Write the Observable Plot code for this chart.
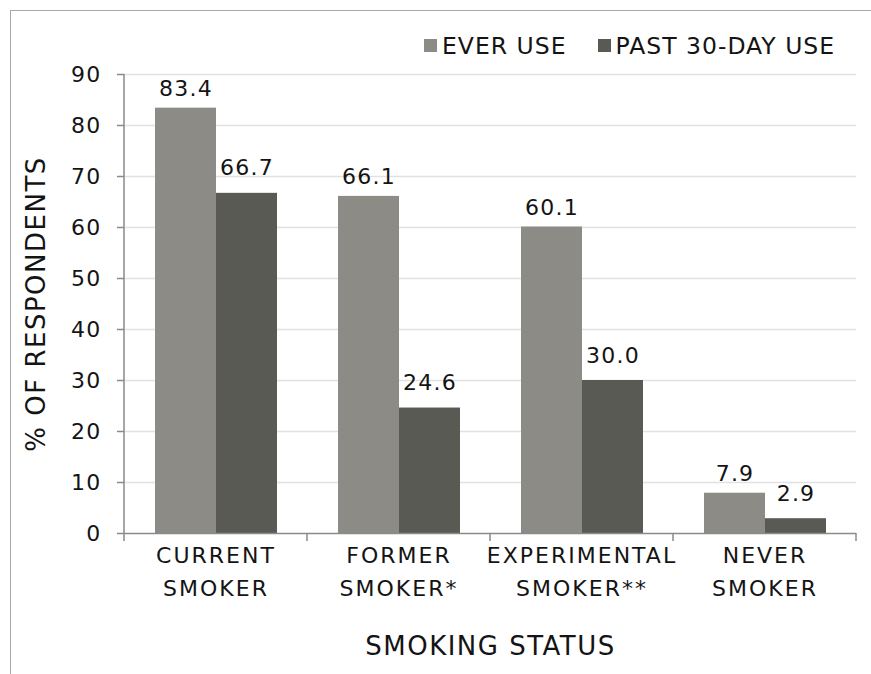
<!DOCTYPE html>
<html>
<head>
<meta charset="utf-8">
<script src="https://cdn.jsdelivr.net/npm/d3@7"></script>
<script src="https://cdn.jsdelivr.net/npm/@observablehq/plot@0.6"></script>
<style>
  html, body { margin: 0; padding: 0; background: #fff; }
  #wrap { position: relative; width: 871px; height: 674px; overflow: hidden; background: #fff; }
  #border { position: absolute; left: 10px; top: 10px; width: 1000px; height: 1000px;
            border-left: 1px solid #a8a8a8; border-top: 1px solid #a8a8a8; pointer-events: none; }
  #chart { position: absolute; left: 0; top: 0; }
  #legend { position: absolute; left: 424px; top: 29px; }
  .lg-swatches { font-family: "DejaVu Sans", sans-serif; font-size: 23.5px; letter-spacing: 1px; color: #141414; }
  .lg-swatch { margin-right: 31px !important; }
  .lg-swatch > svg { margin-right: 5px !important; }
</style>
</head>
<body>
<div id="wrap"><div id="chart"></div><div id="legend"></div><div id="border"></div></div>
<script>
const categories = ["CURRENT\nSMOKER", "FORMER\nSMOKER*", "EXPERIMENTAL\nSMOKER**", "NEVER\nSMOKER"];
const seriesNames = ["EVER USE", "PAST 30-DAY USE"];
const everUse = [83.4, 66.1, 60.1, 7.9];
const past30Day = [66.7, 24.6, 30.0, 2.9];
const yTicks = [0, 10, 20, 30, 40, 50, 60, 70, 80, 90];
const seriesColors = ["#8c8b86", "#5a5a54"];
const xTitle = "SMOKING STATUS";
const yTitle = "% OF RESPONDENTS";

const data = categories.flatMap((c, i) => [
  {category: c, series: seriesNames[0], value: everUse[i]},
  {category: c, series: seriesNames[1], value: past30Day[i]}
]);

const axisColor = "#8a8a8a";
const textColor = "#141414";

const chart = Plot.plot({
  width: 871,
  height: 674,
  marginLeft: 123,
  marginRight: 15,
  marginTop: 74,
  marginBottom: 141,
  style: {fontFamily: "DejaVu Sans, sans-serif", fontSize: "22px", color: textColor, background: "transparent"},
  fx: {domain: categories, padding: 0, axis: null},
  x: {domain: seriesNames, paddingInner: 0, paddingOuter: 0.5, axis: null},
  y: {domain: [0, 90], axis: null},
  color: {domain: seriesNames, range: seriesColors},
  marks: [
    Plot.gridY(yTicks.filter(t => t > 0), {stroke: "#e1e1e1", strokeOpacity: 1, strokeWidth: 1.3}),
    Plot.barY(data, {fx: "category", x: "series", y: "value", fill: "series"}),
    Plot.ruleY([0], {stroke: axisColor, strokeWidth: 1.5}),
    Plot.axisY(yTicks, {anchor: "left", tickSize: 7, tickPadding: 16, stroke: axisColor, strokeWidth: 1.5, fill: textColor, fontSize: 22, label: null}),
    Plot.text(data.filter(d => d.series === seriesNames[0]), {
      fx: "category", x: "series", y: "value", text: d => d.value.toFixed(1),
      lineAnchor: "bottom", dy: -12, fontSize: 22, fill: textColor
    }),
    Plot.text(data.filter(d => d.series === seriesNames[1]), {
      fx: "category", x: "series", y: "value", text: d => d.value.toFixed(1),
      lineAnchor: "bottom", dy: -18, fontSize: 22, fill: textColor
    }),
    Plot.text(categories, {
      fx: d => d, text: d => d, frameAnchor: "bottom", lineAnchor: "bottom",
      lineHeight: 1.5, dy: 62, fontSize: 22, fill: textColor
    }),
    Plot.text([xTitle], {
      frameAnchor: "bottom", lineAnchor: "bottom", dy: 121, fontSize: 26, fill: textColor,
      facet: "super"
    }),
    Plot.text([yTitle], {
      frameAnchor: "left", textAnchor: "middle", rotate: -90, dx: -88, fontSize: 26, fill: textColor,
      facet: "super"
    })
  ]
});

document.getElementById("chart").appendChild(chart);

// letter spacing to mimic the wide original typeface
chart.querySelectorAll("text").forEach(t => {
  const txt = t.textContent;
  let ls;
  if (t.querySelector("tspan")) ls = 2;
  else if (txt === xTitle || txt === yTitle) ls = 1.5;
  else ls = 1.2;
  t.style.letterSpacing = ls + "px";
});

// Excel-style axis decorations drawn from Plot's own scales
(function () {
  const svg = d3.select(chart);
  const fx = chart.scale("fx");
  const y = chart.scale("y");
  const y0 = y.apply(0);
  const y90 = y.apply(90);
  const left = fx.apply(categories[0]);
  const g = svg.append("g").attr("stroke", axisColor).attr("stroke-width", 1.5);
  g.append("line").attr("x1", left).attr("x2", left).attr("y1", y90).attr("y2", y0);
  const edges = categories.map(c => fx.apply(c));
  edges.push(fx.apply(categories[categories.length - 1]) + fx.step);
  for (const e of edges) {
    g.append("line").attr("x1", e).attr("x2", e).attr("y1", y0).attr("y2", y0 + 8);
  }
})();

const legend = Plot.legend({
  color: {domain: seriesNames, range: seriesColors},
  legend: "swatches",
  swatchSize: 13,
  className: "lg"
});
document.getElementById("legend").appendChild(legend);
</script>
</body>
</html>
